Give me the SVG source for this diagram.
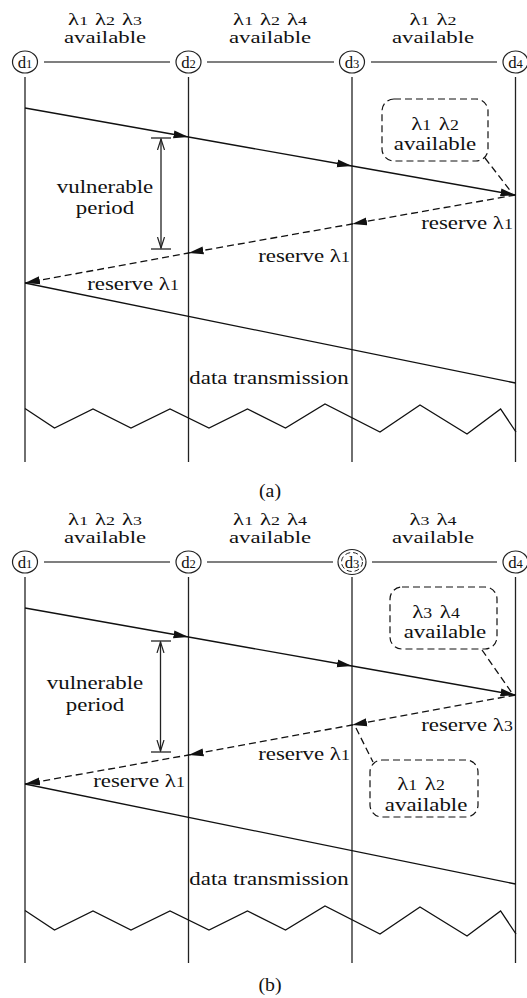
<svg xmlns="http://www.w3.org/2000/svg" width="527" height="998" viewBox="0 0 527 998">
<style>
.t{font-family:"Liberation Serif","Times New Roman",serif;font-size:18px;fill:#111;text-anchor:middle}
.h{font-size:16.5px}
.s{font-size:14px}
.hs{font-size:13px}
.nl{font-family:"Liberation Serif","Times New Roman",serif;font-size:16px;fill:#111;text-anchor:middle}
.ns{font-size:12px}
.node{fill:#fff;stroke:#222;stroke-width:1.2}
.ndash{fill:none;stroke:#222;stroke-width:1;stroke-dasharray:5 3}
.life{stroke:#222;stroke-width:1.3;fill:none}
.link{stroke:#555;stroke-width:1.6;fill:none}
.sol{stroke:#111;stroke-width:1.3;fill:none}
.dsh{stroke:#111;stroke-width:1.3;fill:none;stroke-dasharray:7 4}
.box{fill:none;stroke:#111;stroke-width:1.2;stroke-dasharray:7 4}
.vp{stroke:#222;stroke-width:1.3;fill:none}
</style>
<defs>
<marker id="ah" markerWidth="16" markerHeight="10" refX="15" refY="5" orient="auto" markerUnits="userSpaceOnUse">
<path d="M0,1 L15,5 L0,9 Z" fill="#111" stroke="none"/>
</marker>
<marker id="va" markerWidth="12" markerHeight="12" refX="11" refY="6" orient="auto-start-reverse" markerUnits="userSpaceOnUse">
<path d="M0,2.5 L11,6 L0,9.5" fill="none" stroke="#222" stroke-width="1.2"/>
</marker>
</defs>

<!-- ===== (a) ===== -->
<g id="a-lifelines">
<line class="life" x1="25" y1="77" x2="25" y2="462"/>
<line class="life" x1="188.5" y1="77" x2="188.5" y2="462"/>
<line class="life" x1="352" y1="77" x2="352" y2="462"/>
<line class="life" x1="515.5" y1="77" x2="515.5" y2="462"/>
</g>
<g id="a-links">
<line class="link" x1="44" y1="62" x2="170" y2="62"/>
<line class="link" x1="207" y1="62" x2="334" y2="62"/>
<line class="link" x1="371" y1="62" x2="497" y2="62"/>
<text class="t h" transform="translate(105 24.5) scale(1.38 1)"><tspan x="0" y="0">λ<tspan class="hs">1</tspan><tspan dx="5">λ</tspan><tspan class="hs">2</tspan><tspan dx="5">λ</tspan><tspan class="hs">3</tspan></tspan><tspan x="0" y="18.5">available</tspan></text>
<text class="t h" transform="translate(270 24.5) scale(1.38 1)"><tspan x="0" y="0">λ<tspan class="hs">1</tspan><tspan dx="5">λ</tspan><tspan class="hs">2</tspan><tspan dx="5">λ</tspan><tspan class="hs">4</tspan></tspan><tspan x="0" y="18.5">available</tspan></text>
<text class="t h" transform="translate(433 24.5) scale(1.38 1)"><tspan x="0" y="0">λ<tspan class="hs">1</tspan><tspan dx="5">λ</tspan><tspan class="hs">2</tspan></tspan><tspan x="0" y="18.5">available</tspan></text>
</g>
<g id="a-d1"><ellipse class="node" cx="25" cy="62" rx="12.5" ry="11"/><text class="nl" transform="translate(25 67.5) scale(1.05 1)">d<tspan class="ns">1</tspan></text></g>
<g id="a-d2"><ellipse class="node" cx="188.5" cy="62" rx="12.5" ry="11"/><text class="nl" transform="translate(188.5 67.5) scale(1.05 1)">d<tspan class="ns">2</tspan></text></g>
<g id="a-d3"><ellipse class="node" cx="352" cy="62" rx="12.5" ry="11"/><text class="nl" transform="translate(352 67.5) scale(1.05 1)">d<tspan class="ns">3</tspan></text></g>
<g id="a-d4"><ellipse class="node" cx="515.5" cy="62" rx="12.5" ry="11"/><text class="nl" transform="translate(515.5 67.5) scale(1.05 1)">d<tspan class="ns">4</tspan></text></g>

<g id="a-connectors">
<polyline class="sol" points="25,108 188.5,137 352,166 515.5,195" marker-mid="url(#ah)" marker-end="url(#ah)"/>
<polyline class="dsh" points="515.5,195 352,224 188.5,253 25,283" marker-mid="url(#ah)" marker-end="url(#ah)"/>
<line class="sol" x1="25" y1="283" x2="515.5" y2="383"/>
<line class="dsh" x1="485" y1="158" x2="512" y2="193"/>
<polyline class="sol" points="25,408.5 54.5,428 93,409 131,428 170,409 209,428 247.5,409 285.5,428 325,404 380,432 420,405 467,434 500.6,409 516,432"/>
</g>
<g id="a-vulnerable">
<line class="vp" x1="151" y1="138" x2="171" y2="138"/>
<line class="vp" x1="151" y1="249" x2="171" y2="249"/>
<line class="vp" x1="161" y1="139" x2="161" y2="248" marker-start="url(#va)" marker-end="url(#va)"/>
<text class="t" transform="translate(105 193) scale(1.27 1)"><tspan x="0" y="0">vulnerable</tspan><tspan x="0" y="21">period</tspan></text>
</g>
<g id="a-callout">
<rect class="box" x="382" y="99" width="106" height="62" rx="12"/>
<text class="t" transform="translate(435 130) scale(1.27 1)"><tspan x="0" y="0">λ<tspan class="s">1</tspan><tspan dx="6">λ</tspan><tspan class="s">2</tspan></tspan><tspan x="0" y="20">available</tspan></text>
</g>
<g id="a-labels">
<text class="t" transform="translate(467 229) scale(1.27 1)">reserve <tspan>λ</tspan><tspan class="s">1</tspan></text>
<text class="t" transform="translate(304 262) scale(1.27 1)">reserve <tspan>λ</tspan><tspan class="s">1</tspan></text>
<text class="t" transform="translate(133 290) scale(1.27 1)">reserve <tspan>λ</tspan><tspan class="s">1</tspan></text>
<text class="t" transform="translate(269 384) scale(1.27 1)">data transmission</text>
<text class="t" transform="translate(270 497) scale(1.1 1)">(a)</text>
</g>

<!-- ===== (b) ===== -->
<g id="b-lifelines">
<line class="life" x1="25" y1="577" x2="25" y2="963"/>
<line class="life" x1="188.5" y1="577" x2="188.5" y2="963"/>
<line class="life" x1="352" y1="577" x2="352" y2="963"/>
<line class="life" x1="515.5" y1="577" x2="515.5" y2="963"/>
</g>
<g id="b-links">
<line class="link" x1="44" y1="562" x2="170" y2="562"/>
<line class="link" x1="207" y1="562" x2="333" y2="562"/>
<line class="link" x1="372" y1="562" x2="497" y2="562"/>
<text class="t h" transform="translate(105 524.5) scale(1.38 1)"><tspan x="0" y="0">λ<tspan class="hs">1</tspan><tspan dx="5">λ</tspan><tspan class="hs">2</tspan><tspan dx="5">λ</tspan><tspan class="hs">3</tspan></tspan><tspan x="0" y="18.5">available</tspan></text>
<text class="t h" transform="translate(270 524.5) scale(1.38 1)"><tspan x="0" y="0">λ<tspan class="hs">1</tspan><tspan dx="5">λ</tspan><tspan class="hs">2</tspan><tspan dx="5">λ</tspan><tspan class="hs">4</tspan></tspan><tspan x="0" y="18.5">available</tspan></text>
<text class="t h" transform="translate(433 524.5) scale(1.38 1)"><tspan x="0" y="0">λ<tspan class="hs">3</tspan><tspan dx="5">λ</tspan><tspan class="hs">4</tspan></tspan><tspan x="0" y="18.5">available</tspan></text>
</g>
<g id="b-d1"><ellipse class="node" cx="25" cy="562" rx="12.5" ry="11"/><text class="nl" transform="translate(25 567.5) scale(1.05 1)">d<tspan class="ns">1</tspan></text></g>
<g id="b-d2"><ellipse class="node" cx="188.5" cy="562" rx="12.5" ry="11"/><text class="nl" transform="translate(188.5 567.5) scale(1.05 1)">d<tspan class="ns">2</tspan></text></g>
<g id="b-d3"><ellipse class="node" cx="352" cy="562" rx="14" ry="12.5"/><ellipse class="ndash" cx="352" cy="562" rx="10.5" ry="9.5"/><text class="nl" transform="translate(352 567.5) scale(1.05 1)">d<tspan class="ns">3</tspan></text></g>
<g id="b-d4"><ellipse class="node" cx="515.5" cy="562" rx="12.5" ry="11"/><text class="nl" transform="translate(515.5 567.5) scale(1.05 1)">d<tspan class="ns">4</tspan></text></g>

<g id="b-connectors">
<polyline class="sol" points="25,608 188.5,637 352,666 515.5,695" marker-mid="url(#ah)" marker-end="url(#ah)"/>
<polyline class="dsh" points="515.5,695 352,725 188.5,755 25,784" marker-mid="url(#ah)" marker-end="url(#ah)"/>
<line class="sol" x1="25" y1="784" x2="515.5" y2="884"/>
<line class="dsh" x1="482" y1="650" x2="512" y2="693"/>
<line class="dsh" x1="356" y1="728" x2="373" y2="762"/>
<polyline class="sol" points="25,910.5 54.5,930 93,911 131,930 170,911 209,930 247.5,911 285.5,930 325,906 380,934 420,907 467,936 500.6,911 516,934"/>
</g>
<g id="b-vulnerable">
<line class="vp" x1="151" y1="641" x2="171" y2="641"/>
<line class="vp" x1="151" y1="752" x2="171" y2="752"/>
<line class="vp" x1="160.5" y1="642" x2="160.5" y2="751" marker-start="url(#va)" marker-end="url(#va)"/>
<text class="t" transform="translate(95 689) scale(1.27 1)"><tspan x="0" y="0">vulnerable</tspan><tspan x="0" y="22">period</tspan></text>
</g>
<g id="b-callout1">
<rect class="box" x="390" y="587" width="107" height="62" rx="12"/>
<text class="t" transform="translate(436 618) scale(1.27 1)"><tspan x="0" y="0">λ<tspan class="s">3</tspan><tspan dx="6">λ</tspan><tspan class="s">4</tspan></tspan><tspan x="7" y="20">available</tspan></text>
</g>
<g id="b-callout2">
<rect class="box" x="370" y="760" width="108" height="57" rx="12"/>
<text class="t" transform="translate(421 790) scale(1.27 1)"><tspan x="0" y="0">λ<tspan class="s">1</tspan><tspan dx="6">λ</tspan><tspan class="s">2</tspan></tspan><tspan x="4" y="21">available</tspan></text>
</g>
<g id="b-labels">
<text class="t" transform="translate(467 731) scale(1.27 1)">reserve <tspan>λ</tspan><tspan class="s">3</tspan></text>
<text class="t" transform="translate(304 760) scale(1.27 1)">reserve <tspan>λ</tspan><tspan class="s">1</tspan></text>
<text class="t" transform="translate(139 787) scale(1.27 1)">reserve <tspan>λ</tspan><tspan class="s">1</tspan></text>
<text class="t" transform="translate(269 885) scale(1.27 1)">data transmission</text>
<text class="t" transform="translate(270 991) scale(1.1 1)">(b)</text>
</g>
</svg>
